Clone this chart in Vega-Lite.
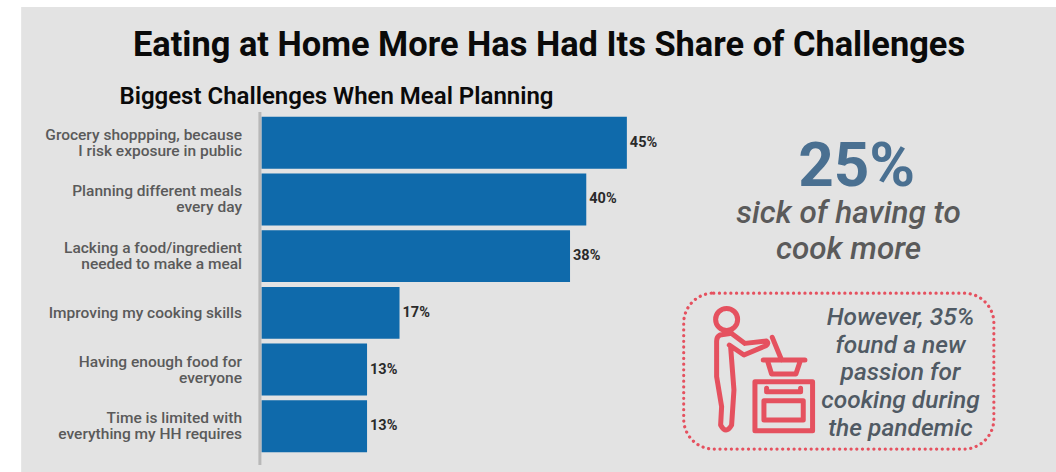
{
"$schema":"https://vega.github.io/schema/vega-lite/v6.json",
"width":790,"height":345,
"autosize":{"type":"none"},
"padding":{"left":261.5,"top":112,"right":4.5,"bottom":15},
"background":"#ffffff",
"view":{"stroke":null},
"title":{"text":"Eating at Home More Has Had Its Share of Challenges","font":"Roboto","fontSize":34.4,"fontWeight":700,"color":"#0a0a0a","anchor":"middle","frame":"group","dx":-107.5,"offset":-83,"baseline":"alphabetic"},
"resolve":{"scale":{"y":"independent"}},
"layer":[
{"data":{"values":[{"x0":-29.6,"x1":98,"y0":-30.4,"y1":104.4}]},
 "mark":{"type":"rect","fill":"#e3e3e3","clip":false},
 "encoding":{"x":{"field":"x0","type":"quantitative","axis":null,"scale":{"domain":[0,97.3],"nice":false,"zero":false}},"x2":{"field":"x1"},
 "y":{"field":"y0","type":"quantitative","axis":null,"scale":{"domain":[0,100],"reverse":true,"nice":false,"zero":false}},"y2":{"field":"y1"}}},
{"data":{"values":[
{"item":"Grocery shoppping, because|I risk exposure in public","pct":45,"label":"45%"},
{"item":"Planning different meals|every day","pct":40,"label":"40%"},
{"item":"Lacking a food/ingredient|needed to make a meal","pct":38,"label":"38%"},
{"item":"Improving my cooking skills","pct":17,"label":"17%"},
{"item":"Having enough food for|everyone","pct":13,"label":"13%"},
{"item":"Time is limited with|everything my HH requires","pct":13,"label":"13%"}]},
 "encoding":{
 "y":{"field":"item","type":"nominal","sort":null,"title":null,"scale":{"paddingInner":0.085,"paddingOuter":0.085},
  "axis":{"zindex":1,"domain":false,"ticks":false,"labelExpr":"split(datum.label,'|')","labelFont":"Roboto","labelFontSize":15.5,"labelFontWeight":500,"labelColor":"#5a5a5a","labelLineHeight":16,"labelPadding":20,"labelLimit":300,
  "labelOffset":{"condition":{"test":"indexof(datum.value,'|')>=0","value":-8},"value":0}}},
 "x":{"field":"pct","type":"quantitative","axis":null,"scale":{"domain":[0,97.3],"nice":false,"zero":false}}},
 "layer":[
 {"mark":{"type":"bar","color":"#0f6aab"}},
 {"mark":{"type":"text","align":"left","dx":3,"font":"Roboto","fontSize":14.5,"fontWeight":700,"color":"#2a2a2a"},"encoding":{"text":{"field":"label"}}}
 ]},
{"data":{"values":[{"x0":-0.2,"y0":0,"y1":102.3}]},
 "mark":{"type":"rule","color":"#b8b8b8","strokeWidth":3},
 "encoding":{"x":{"field":"x0","type":"quantitative","axis":null,"scale":{"domain":[0,97.3],"nice":false,"zero":false}},
 "y":{"field":"y0","type":"quantitative","axis":null,"scale":{"domain":[0,100],"reverse":true,"nice":false,"zero":false}},"y2":{"field":"y1"}}},
{"data":{"values":[{"x0":52,"x1":90.2,"y0":52.5,"y1":97.7}]},
 "mark":{"type":"rect","fill":null,"stroke":"#e5515f","strokeWidth":3.2,"strokeCap":"round","strokeDash":[0.1,5.6],"cornerRadius":30},
 "encoding":{"x":{"field":"x0","type":"quantitative","axis":null,"scale":{"domain":[0,97.3],"nice":false,"zero":false}},"x2":{"field":"x1"},
 "y":{"field":"y0","type":"quantitative","axis":null,"scale":{"domain":[0,100],"reverse":true,"nice":false,"zero":false}},"y2":{"field":"y1"}}},
{"data":{"values":[{"x0":61.8,"y0":74.6}]},
 "mark":{"type":"point","filled":false,"stroke":"#e5515f","strokeWidth":5,"strokeCap":"round","strokeJoin":"round","opacity":1,"size":0.444,
 "shape":"M-143 -150 a33 33 0 1 0 66 0 a33 33 0 1 0 -66 0 Z M-95 -108 L-55 -78 L10 -85 Q18 -78 8 -71 L-58 -43 L-102 -73 M-95 -108 L-130 -103 Q-140 -98 -140 -85 L-140 22 L-125 112 L-128 167 Q-112 197 -95 167 L-88 62 L-98 -68 M-25 37 L148 37 L148 184 L-25 184 Z M2 94 L120 94 L120 152 L2 152 Z M10 57 L10 67 L112 67 L112 57 M0 -28 L125 -28 M12 -28 L25 14 L98 14 L112 -28 M27 -96 L55 -28"},
 "encoding":{"x":{"field":"x0","type":"quantitative","axis":null,"scale":{"domain":[0,97.3],"nice":false,"zero":false}},
 "y":{"field":"y0","type":"quantitative","axis":null,"scale":{"domain":[0,100],"reverse":true,"nice":false,"zero":false}}}},
{"data":{"values":[{"x0":-17.5,"y0":-2.3,"t":"Biggest Challenges When Meal Planning"}]},
 "mark":{"type":"text","align":"left","baseline":"alphabetic","font":"Roboto","fontSize":24,"fontWeight":600,"color":"#0a0a0a"},
 "encoding":{"x":{"field":"x0","type":"quantitative","axis":null,"scale":{"domain":[0,97.3],"nice":false,"zero":false}},
 "y":{"field":"y0","type":"quantitative","axis":null,"scale":{"domain":[0,100],"reverse":true,"nice":false,"zero":false}},"text":{"field":"t"}}},
{"data":{"values":[{"x0":73.3,"y0":21.4,"t":"25%"}]},
 "mark":{"type":"text","align":"center","baseline":"alphabetic","font":"Roboto","fontSize":62,"fontWeight":700,"color":"#4a7091"},
 "encoding":{"x":{"field":"x0","type":"quantitative","axis":null,"scale":{"domain":[0,97.3],"nice":false,"zero":false}},
 "y":{"field":"y0","type":"quantitative","axis":null,"scale":{"domain":[0,100],"reverse":true,"nice":false,"zero":false}},"text":{"field":"t"}}},
{"data":{"values":[{"x0":72.3,"y0":32.1,"t":"sick of having to|cook more"}]},
 "mark":{"type":"text","align":"center","baseline":"alphabetic","lineBreak":"|","lineHeight":36,"font":"Roboto","fontSize":31.5,"fontStyle":"italic","fontWeight":500,"color":"#5a5a5a"},
 "encoding":{"x":{"field":"x0","type":"quantitative","axis":null,"scale":{"domain":[0,97.3],"nice":false,"zero":false}},
 "y":{"field":"y0","type":"quantitative","axis":null,"scale":{"domain":[0,100],"reverse":true,"nice":false,"zero":false}},"text":{"field":"t"}}},
{"data":{"values":[{"x0":78.7,"y0":61.7,"t":"However, 35%|found a new|passion for|cooking during|the pandemic"}]},
 "mark":{"type":"text","align":"center","baseline":"alphabetic","lineBreak":"|","lineHeight":27.7,"font":"Roboto","fontSize":24.5,"fontStyle":"italic","fontWeight":500,"color":"#505a64"},
 "encoding":{"x":{"field":"x0","type":"quantitative","axis":null,"scale":{"domain":[0,97.3],"nice":false,"zero":false}},
 "y":{"field":"y0","type":"quantitative","axis":null,"scale":{"domain":[0,100],"reverse":true,"nice":false,"zero":false}},"text":{"field":"t"}}}
]
}
